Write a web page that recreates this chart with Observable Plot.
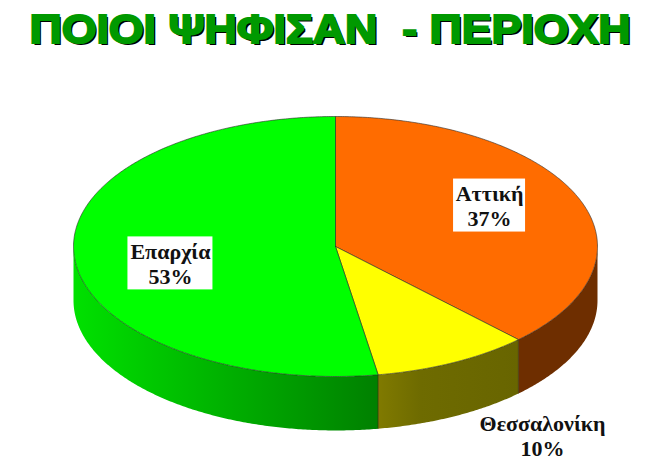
<!DOCTYPE html>
<html>
<head>
<meta charset="utf-8">
<script src="https://cdn.jsdelivr.net/npm/d3@7"></script>
<script src="https://cdn.jsdelivr.net/npm/@observablehq/plot@0.6"></script>
<style>
  html, body { margin: 0; padding: 0; background: #fff; overflow: hidden; }
  #title {
    height: 60px; width: 660px; text-align: center; white-space: pre;
    font: bold 41px/58px "Liberation Sans", sans-serif; color: #009900;
    -webkit-text-stroke: 2px #009900;
    text-shadow: 2px 2px 0 #000;
    transform: scaleX(1.09);
  }
  svg { display: block; }
</style>
</head>
<body>
<div id="title">ΠΟΙΟΙ ΨΗΦΙΣΑΝ  - ΠΕΡΙΟΧΗ</div>
<div id="chart"></div>
<script>
// Data
const categories = ["Αττική", "Θεσσαλονίκη", "Επαρχία"];
const printedLabels = ["37%", "10%", "53%"];
// Share of the circle each drawn slice really occupies (measured from its edges)
const drawnShares = [37.7, 9.7, 52.6];

// Styling
const topColors = ["#ff6c00", "#ffff00", "#00ff00"];
const sideFills = ["url(#sideA)", "url(#sideT)", "url(#sideE)"];
const depth = 0.415;            // pie thickness, in units of the vertical radius

// Slice boundaries, in degrees clockwise from the top
const total = d3.sum(drawnShares);
const cum = d3.cumsum(drawnShares);
const slices = categories.map((name, i) => ({
  name,
  a0: (i ? cum[i - 1] : 0) / total * 360,
  a1: cum[i] / total * 360
}));

const pt = (deg, dy = 0) => {
  const t = deg * Math.PI / 180;
  return { x: Math.sin(t), y: -Math.cos(t) + dy };
};
const arc = (a0, a1, dy = 0) => {
  const n = Math.max(2, Math.ceil(Math.abs(a1 - a0) * 2));
  return d3.range(n + 1).map(i => pt(a0 + (a1 - a0) * i / n, dy));
};
const topPoly = s => [{ x: 0, y: 0 }, ...arc(s.a0, s.a1), { x: 0, y: 0 }];
const sidePoly = s => {
  const a0 = Math.max(s.a0, 90), a1 = Math.min(s.a1, 270);
  if (a1 <= a0) return null;
  const outer = arc(a0, a1, 0), lower = arc(a1, a0, depth);
  return [...outer, ...lower, outer[0]];
};
// Wall seams between slices that face the viewer
const seams = slices.map(s => s.a0).filter(a => a > 90 && a < 270)
  .map(a => ({ a: pt(a), b: pt(a, depth) }));

const boxedLabels = [
  { i: 0, x: 0.588, y: -0.315, hw: 36, hh: 26.5 },
  { i: 2, x: -0.63, y: 0.13, hw: 42.5, hh: 26.5 }
].map(d => ({ ...d, text: categories[d.i] + "\n" + printedLabels[d.i] }));
const freeLabels = [
  { x: 0.79, y: 1.45, text: categories[1] + "\n" + printedLabels[1] }
];
const rx = 262, ry = 130;

const chart = Plot.plot({
  width: 660, height: 413,
  margin: 0,
  x: { domain: [-1, 1], range: [73, 597], axis: null },
  y: { domain: [-1, 1], range: [56, 316], axis: null },
  marks: [
    ...slices.map((s, i) => sidePoly(s) &&
      Plot.line(sidePoly(s), { x: "x", y: "y", fill: sideFills[i], stroke: "none", curve: "linear" }))
      .filter(Boolean),
    Plot.link(seams, {
      x1: d => d.a.x, y1: d => d.a.y, x2: d => d.b.x, y2: d => d.b.y,
      stroke: "#3a2a00", strokeWidth: 0.7
    }),
    ...slices.map((s, i) =>
      Plot.line(topPoly(s), { x: "x", y: "y", fill: topColors[i], stroke: "#2a2a2a", strokeWidth: 0.6, curve: "linear" })),
    Plot.rect(boxedLabels, {
      x1: d => d.x - d.hw / rx, x2: d => d.x + d.hw / rx,
      y1: d => d.y - d.hh / ry, y2: d => d.y + d.hh / ry,
      fill: "#fff"
    }),
    Plot.text([...boxedLabels, ...freeLabels], {
      x: "x", y: "y", text: "text",
      fontFamily: "Liberation Serif", fontWeight: "bold", fontSize: 22,
      lineHeight: 1.14, fill: "#111"
    })
  ]
});

// Horizontal shading of the pie wall
const grads = {
  sideA: [[0, "#6e2e00"], [1, "#6e2e00"]],
  sideT: [[0, "#807a00"], [0.3, "#6e6b00"], [1, "#686500"]],
  sideE: [[0, "#00e100"], [1, "#008000"]]
};
const defs = document.createElementNS("http://www.w3.org/2000/svg", "defs");
for (const [id, stops] of Object.entries(grads)) {
  const g = document.createElementNS("http://www.w3.org/2000/svg", "linearGradient");
  g.setAttribute("id", id);
  for (const [o, c] of stops) {
    const st = document.createElementNS("http://www.w3.org/2000/svg", "stop");
    st.setAttribute("offset", o); st.setAttribute("stop-color", c);
    g.appendChild(st);
  }
  defs.appendChild(g);
}
chart.insertBefore(defs, chart.firstChild);
document.getElementById("chart").appendChild(chart);
</script>
</body>
</html>
